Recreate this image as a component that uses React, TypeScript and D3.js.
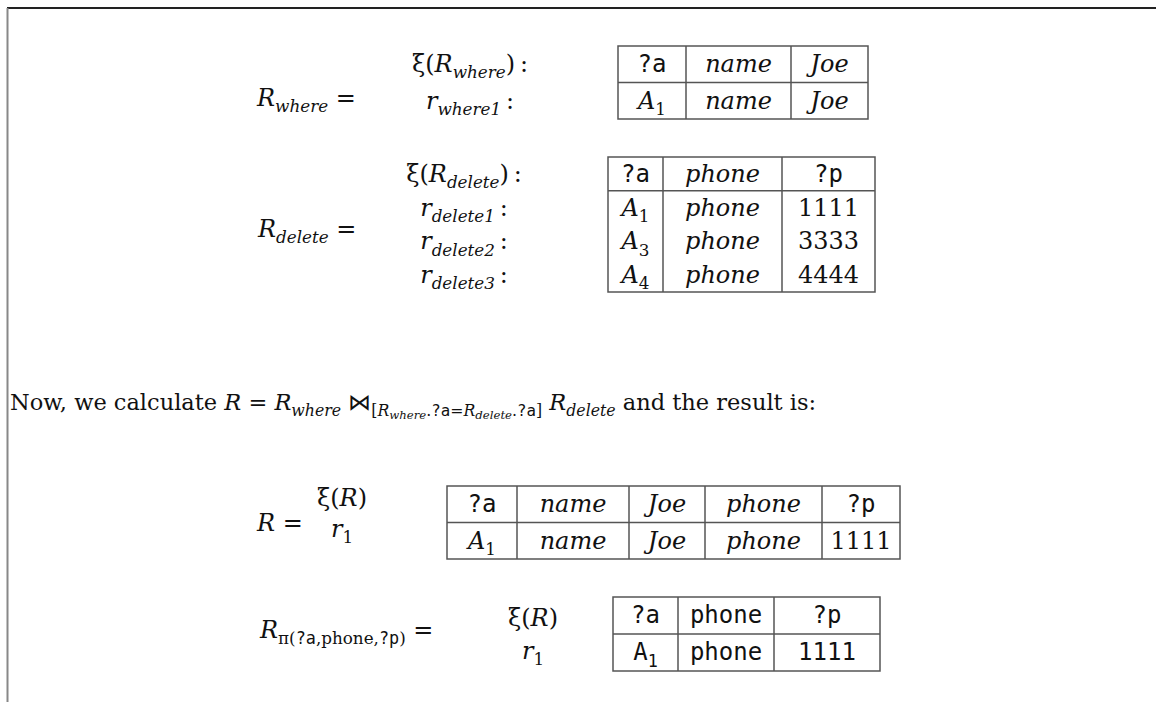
import React, { useEffect, useRef } from 'react';
import * as d3 from 'd3';

// a run of text: [text, style]; styles: rm, it, tt, and sub-/ssub- prefixed versions
type Run = [string, string];

const whereHeader: Run[][] = [[['?a', 'tt']], [['name', 'it']], [['Joe', 'it']]];
const whereRows: Run[][][] = [[[['A', 'it'], ['1', 'sub-rm']], [['name', 'it']], [['Joe', 'it']]]];
const whereLabels: Run[][] = [
  [['ξ(', 'rm'], ['R', 'it'], ['where', 'sub-it'], [')\u2009:', 'rm']],
  [['r', 'it'], ['where1', 'sub-it'], ['\u2009:', 'rm']]
];

const deleteHeader: Run[][] = [[['?a', 'tt']], [['phone', 'it']], [['?p', 'tt']]];
const deleteIds = ['1', '3', '4'];
const deleteNumbers = ['1111', '3333', '4444'];
const deleteLabels: Run[][] = [
  [['ξ(', 'rm'], ['R', 'it'], ['delete', 'sub-it'], [')\u2009:', 'rm']],
  [['r', 'it'], ['delete1', 'sub-it'], ['\u2009:', 'rm']],
  [['r', 'it'], ['delete2', 'sub-it'], ['\u2009:', 'rm']],
  [['r', 'it'], ['delete3', 'sub-it'], ['\u2009:', 'rm']]
];

const joinHeader: Run[][] = [[['?a', 'tt']], [['name', 'it']], [['Joe', 'it']], [['phone', 'it']], [['?p', 'tt']]];
const joinRow: Run[][] = [[['A', 'it'], ['1', 'sub-rm']], [['name', 'it']], [['Joe', 'it']], [['phone', 'it']], [['1111', 'rm']]];
const resultLabels: Run[][] = [
  [['ξ(', 'rm'], ['R', 'it'], [')', 'rm']],
  [['r', 'it'], ['1', 'sub-rm']]
];

const projHeader: Run[][] = [[['?a', 'tt']], [['phone', 'tt']], [['?p', 'tt']]];
const projRow: Run[][] = [[['A', 'tt'], ['1', 'sub-tt']], [['phone', 'tt']], [['1111', 'tt']]];

const sentence: Run[] = [
  ['Now, we calculate ', 'rm'], ['R', 'it'], [' = ', 'rm'], ['R', 'it'], ['where', 'sub-it'],
  [' ⋈', 'rm'], ['[', 'sub-rm'], ['R', 'sub-it'], ['where', 'ssub-it'], ['.', 'sub-rm'], ['?a', 'sub-tt'],
  ['=', 'sub-rm'], ['R', 'sub-it'], ['delete', 'ssub-it'], ['.', 'sub-rm'], ['?a', 'sub-tt'], [']', 'sub-rm'],
  [' ', 'rm'], ['R', 'it'], ['delete', 'sub-it'], [' and the result is:', 'rm']
];

const FS = 24;
const SERIF = '"DejaVu Serif", "Liberation Serif", serif';
const MONO = '"DejaVu Sans Mono", "Liberation Mono", monospace';

function drawRuns(g: any, x: number, y: number, runs: Run[], anchor = 'start', size = FS) {
  const text = g.append('text').attr('x', x).attr('y', y).attr('text-anchor', anchor)
    .attr('font-size', size).attr('fill', '#111');
  let shift = 0;
  runs.forEach(([t, style]) => {
    const level = style.startsWith('ssub-') ? 2 : style.startsWith('sub-') ? 1 : 0;
    const kind = style.split('-').pop();
    const target = level === 2 ? size * 0.4 : level === 1 ? size * 0.26 : 0;
    const fs = level === 2 ? size * 0.52 : level === 1 ? size * 0.7 : size;
    text.append('tspan')
      .attr('dy', target - shift)
      .attr('font-size', fs)
      .attr('font-family', kind === 'tt' ? MONO : SERIF)
      .attr('font-style', kind === 'it' ? 'italic' : 'normal')
      .text(t);
    shift = target;
  });
}

function drawTable(g: any, cols: number[], top: number, bottom: number, header: Run[][], rows: Run[][][]) {
  const all = [header, ...rows];
  const y = d3.scaleBand<number>().domain(d3.range(all.length)).range([top, bottom]);
  const x = d3.scaleOrdinal<number, number>().domain(d3.range(cols.length)).range(cols);
  const stroke = '#555';
  g.append('rect').attr('x', cols[0]).attr('y', top).attr('width', cols[cols.length - 1] - cols[0])
    .attr('height', bottom - top).attr('fill', 'none').attr('stroke', stroke).attr('stroke-width', 1.5);
  g.append('line').attr('x1', cols[0]).attr('x2', cols[cols.length - 1])
    .attr('y1', top + y.bandwidth()).attr('y2', top + y.bandwidth()).attr('stroke', stroke).attr('stroke-width', 1.5);
  cols.slice(1, -1).forEach((c) => {
    g.append('line').attr('x1', c).attr('x2', c).attr('y1', top).attr('y2', bottom)
      .attr('stroke', stroke).attr('stroke-width', 1.5);
  });
  all.forEach((row, r) => {
    row.forEach((cell, c) => {
      const cx = (x(c) + x(c + 1)) / 2;
      drawRuns(g, cx, (y(r) ?? 0) + y.bandwidth() / 2 + FS * 0.33, cell, 'middle');
    });
  });
  return y;
}

export default function App() {
  const ref = useRef<SVGSVGElement>(null);

  useEffect(() => {
    const svg = d3.select(ref.current);
    svg.selectAll('*').remove();
    const g = svg.append('g');

    g.append('line').attr('x1', 7).attr('x2', 1156).attr('y1', 8).attr('y2', 8).attr('stroke', '#222').attr('stroke-width', 2);
    g.append('line').attr('x1', 7.5).attr('x2', 7.5).attr('y1', 8).attr('y2', 702).attr('stroke', '#888').attr('stroke-width', 2);

    // R_where block
    const y1 = drawTable(g, [618, 686, 791, 868], 46, 119, whereHeader, whereRows);
    whereLabels.forEach((l, i) => drawRuns(g, 470, (y1(i) ?? 0) + y1.bandwidth() / 2 + FS * 0.33, l, 'middle'));
    drawRuns(g, 257, 106, [['R', 'it'], ['where', 'sub-it'], [' =', 'rm']]);

    // R_delete block
    const delRows: Run[][][] = deleteIds.map((id, i) => [
      [['A', 'it'], [id, 'sub-rm']], [['phone', 'it']], [[deleteNumbers[i], 'rm']]
    ]);
    const y2 = drawTable(g, [608, 663, 782, 875], 157, 292, deleteHeader, delRows);
    deleteLabels.forEach((l, i) => drawRuns(g, 464, (y2(i) ?? 0) + y2.bandwidth() / 2 + FS * 0.33, l, 'middle'));
    drawRuns(g, 258, 237, [['R', 'it'], ['delete', 'sub-it'], [' =', 'rm']]);

    drawRuns(g, 10, 410, sentence, 'start', 22.5);

    // join result
    drawTable(g, [447, 517, 629, 705, 822, 900], 486, 559, joinHeader, [joinRow]);
    resultLabels.forEach((l, i) => drawRuns(g, 342, [506, 537][i], l, 'middle'));
    drawRuns(g, 257, 531, [['R', 'it'], [' =', 'rm']]);

    // projection
    drawTable(g, [613, 678, 774, 880], 597, 671, projHeader, [projRow]);
    resultLabels.forEach((l, i) => drawRuns(g, 533, [626, 659][i], l, 'middle'));
    drawRuns(g, 260, 638, [['R', 'it'], ['π(', 'sub-rm'], ['?a', 'sub-tt'], [',phone,', 'sub-rm'], ['?p', 'sub-tt'], [')', 'sub-rm'], [' =', 'rm']]);
  }, []);

  return (
    <svg ref={ref} width={1156} height={702} style={{ position: 'absolute', left: 0, top: 0, background: '#fff' }} />
  );
}
